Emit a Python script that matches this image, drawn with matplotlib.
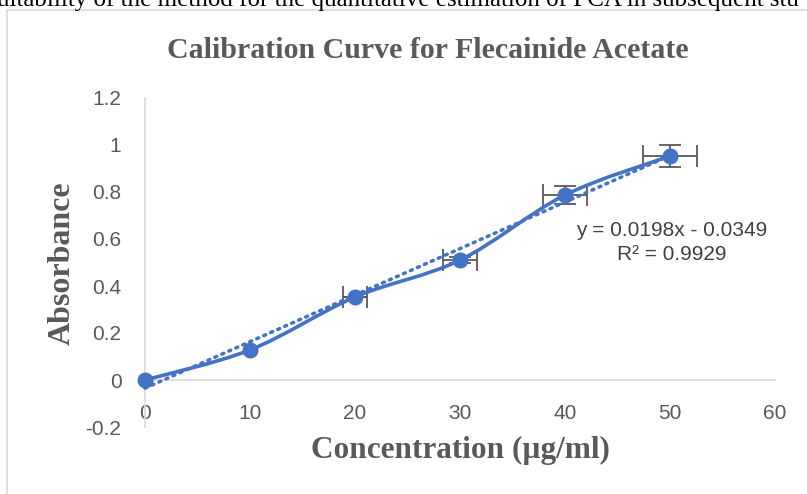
import matplotlib.pyplot as plt
from matplotlib.path import Path
from matplotlib.patches import PathPatch
from matplotlib.lines import Line2D

# Calibration data for flecainide acetate
conc = [0, 10, 20, 30, 40, 50]
absorb = [0.0, 0.128, 0.353, 0.51, 0.787, 0.953]
x_err = [0.0, 0.0, 1.1, 1.6, 2.1, 2.6]
y_err = [0.0, 0.0, 0.0, 0.014, 0.037, 0.047]
slope = 0.0198
intercept = -0.0349
r2 = 0.9929
x_ticks = [0, 10, 20, 30, 40, 50, 60]
y_ticks = [-0.2, 0, 0.2, 0.4, 0.6, 0.8, 1, 1.2]

blue = "#4472C4"
grey = "#595959"
axis_grey = "#D9D9D9"

fig = plt.figure(figsize=(8.07, 4.94), dpi=100)
ax = fig.add_axes([145 / 807, 1 - 427 / 494, 630 / 807, 329 / 494])

# text of the page above the chart, cut off at the top
fig.text(-0.004, 1 - 6 / 494,
         "uitability of the method for the quantitative estimation of FCA in subsequent stu",
         family="Liberation Serif", fontsize=18, color="black", va="baseline")

# chart area border
fig.add_artist(Line2D([7 / 807, 7 / 807], [0, 1 - 10 / 494], transform=fig.transFigure,
                      color=axis_grey, lw=1.2))
fig.add_artist(Line2D([7 / 807, 1], [1 - 10 / 494, 1 - 10 / 494], transform=fig.transFigure,
                      color=axis_grey, lw=1.2))

ax.errorbar(conc[2:], absorb[2:], xerr=x_err[2:], yerr=y_err[2:], fmt="none",
            ecolor=grey, elinewidth=1.3, capsize=8, capthick=1.3, zorder=3)

# smoothed line through the points (Catmull-Rom style beziers)
verts = [(conc[0], absorb[0])]
codes = [Path.MOVETO]
n = len(conc)
for i in range(n - 1):
    p0 = (conc[max(i - 1, 0)], absorb[max(i - 1, 0)])
    p1 = (conc[i], absorb[i])
    p2 = (conc[i + 1], absorb[i + 1])
    p3 = (conc[min(i + 2, n - 1)], absorb[min(i + 2, n - 1)])
    c1 = (p1[0] + (p2[0] - p0[0]) / 6, p1[1] + (p2[1] - p0[1]) / 6)
    c2 = (p2[0] - (p3[0] - p1[0]) / 6, p2[1] - (p3[1] - p1[1]) / 6)
    verts += [c1, c2, p2]
    codes += [Path.CURVE4] * 3
ax.add_patch(PathPatch(Path(verts, codes), fill=False, edgecolor=blue, lw=2.6,
                       capstyle="round", zorder=4, clip_on=False))
ax.plot(conc, absorb, "o", color=blue, markersize=10.5, zorder=5, clip_on=False)

# linear trendline
ax.plot([conc[0], conc[-1]], [slope * conc[0] + intercept, slope * conc[-1] + intercept],
        linestyle=(0, (0.6, 1.6)), color=blue, lw=2.5, dash_capstyle="round",
        zorder=4, clip_on=False)

ax.text(50.2, 0.585, f"y = {slope}x - {abs(intercept)}\nR² = {r2}", ha="center",
        va="center", color="#404040", fontsize=15, family="Liberation Sans",
        linespacing=1.3)

ax.set_xlim(0, 60)
ax.set_ylim(-0.2, 1.2)
ax.set_xticks(x_ticks)
ax.set_yticks(y_ticks)
ax.set_yticklabels([f"{v:g}" for v in y_ticks])
for s in ["top", "right"]:
    ax.spines[s].set_visible(False)
ax.spines["bottom"].set_position(("data", 0))
ax.spines["bottom"].set_color(axis_grey)
ax.spines["left"].set_color(axis_grey)
ax.spines["bottom"].set_linewidth(1.2)
ax.spines["left"].set_linewidth(1.2)
ax.tick_params(length=0, labelsize=15, labelcolor=grey)
ax.tick_params(axis="x", pad=17)
ax.tick_params(axis="y", pad=17)
for lab in ax.get_xticklabels() + ax.get_yticklabels():
    lab.set_family("Liberation Sans")

fig.text(428 / 807, 1 - 50 / 494, "Calibration Curve for Flecainide Acetate",
         ha="center", va="center", family="Liberation Serif", fontweight="bold",
         fontsize=21.5, color=grey)
fig.text(460 / 807, 1 - 450 / 494, "Concentration (µg/ml)", ha="center", va="center",
         family="Liberation Serif", fontweight="bold", fontsize=22.5, color=grey)
fig.text(62 / 807, 1 - 263 / 494, "Absorbance", ha="center", va="center",
         rotation=90, family="Liberation Serif", fontweight="bold", fontsize=23,
         color=grey)

fig.savefig("out.png", dpi=100)
